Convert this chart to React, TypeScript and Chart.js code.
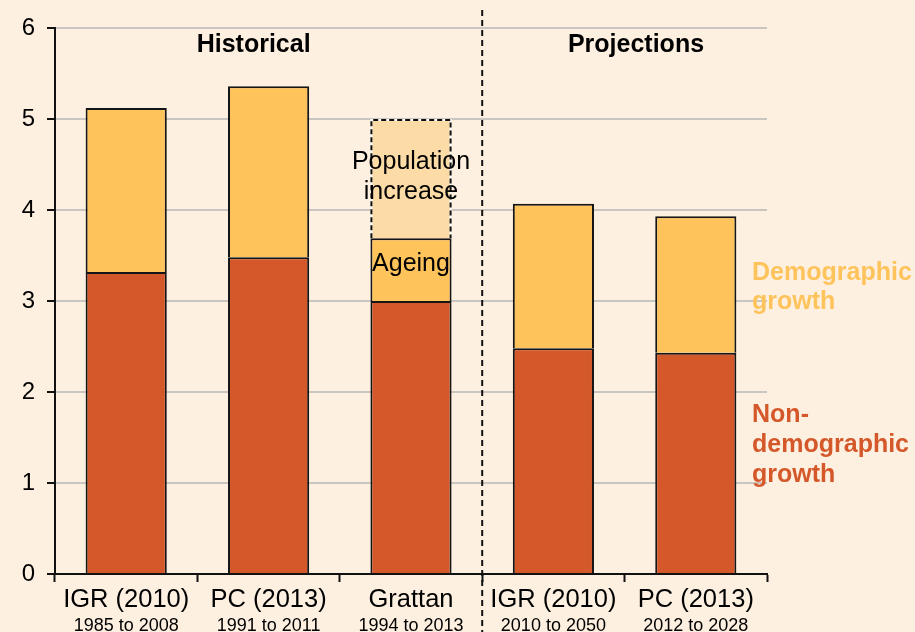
import React, { useEffect, useRef } from "react";
import { Chart, registerables } from "chart.js";

Chart.register(...registerables);

const categories = ["IGR (2010)", "PC (2013)", "Grattan", "IGR (2010)", "PC (2013)"];
const periods = ["1985 to 2008", "1991 to 2011", "1994 to 2013", "2010 to 2050", "2012 to 2028"];
const nonDemographic = [3.32, 3.48, 3.0, 2.48, 2.43];
const demographic = [1.8, 1.88, 0.69, 1.59, 1.5];
const populationIncrease = [0, 0, 1.31, 0, 0];
const yTicks = [0, 1, 2, 3, 4, 5, 6];

// annotation texts: [text, x (category units), y (value units)]
const sectionLabels: [string, number, number][] = [
  ["Historical", 0.895, 5.81],
  ["Projections", 3.58, 5.81],
];
const barNotes: [string, number, number][] = [
  ["Population", 2, 4.53],
  ["increase", 2, 4.2],
  ["Ageing", 2, 3.4],
];
const demoLegend: [string, number, number][] = [
  ["Demographic", 4.395, 3.31],
  ["growth", 4.395, 2.99],
];
const nonDemoLegend: [string, number, number][] = [
  ["Non-", 4.395, 1.75],
  ["demographic", 4.395, 1.42],
  ["growth", 4.395, 1.09],
];

const DARK = "#D4582A";
const YELLOW = "#FEC35B";
const LIGHT = "#FDDBA6";
const BG = "#FDF0E0";
const FONT = "'Liberation Sans', Arial, sans-serif";

export default function App() {
  const ref = useRef<HTMLCanvasElement | null>(null);

  useEffect(() => {
    document.body.style.margin = "0";
    const canvas = ref.current;
    if (!canvas) return;

    const overlay = {
      id: "overlay",
      beforeDraw(chart: any) {
        const { ctx } = chart;
        ctx.save();
        ctx.fillStyle = BG;
        ctx.fillRect(0, 0, chart.width, chart.height);
        ctx.restore();
      },
      afterDatasetsDraw(chart: any) {
        const { ctx } = chart;
        const xs = chart.scales.x;
        const ys = chart.scales.y;
        ctx.save();
        // dashed border of population increase segment
        const meta = chart.getDatasetMeta(2);
        meta.data.forEach((el: any, i: number) => {
          if (!populationIncrease[i]) return;
          const p = el.getProps(["x", "y", "base", "width"], true);
          const l = p.x - p.width / 2 + 1;
          const r = p.x + p.width / 2 - 1;
          ctx.beginPath();
          ctx.moveTo(l, p.base);
          ctx.lineTo(l, p.y + 1);
          ctx.lineTo(r, p.y + 1);
          ctx.lineTo(r, p.base);
          ctx.lineWidth = 2;
          ctx.strokeStyle = "#ffffff";
          ctx.setLineDash([]);
          ctx.stroke();
          ctx.strokeStyle = "#111111";
          ctx.setLineDash([5, 3]);
          ctx.stroke();
        });
        ctx.setLineDash([]);
        // section divider
        const xd = (xs.getPixelForValue(2) + xs.getPixelForValue(3)) / 2;
        ctx.beginPath();
        ctx.moveTo(xd, 10);
        ctx.lineTo(xd, chart.height);
        ctx.lineWidth = 2;
        ctx.strokeStyle = "#111111";
        ctx.setLineDash([6, 4]);
        ctx.stroke();
        ctx.setLineDash([]);

        ctx.textBaseline = "middle";
        ctx.textAlign = "center";
        ctx.fillStyle = "#000";
        ctx.font = `bold 25px ${FONT}`;
        sectionLabels.forEach(([t, x, y]) => {
          ctx.fillText(t, xs.getPixelForValue(x), ys.getPixelForValue(y));
        });
        ctx.font = `25px ${FONT}`;
        barNotes.forEach(([t, x, y]) => {
          ctx.fillText(t, xs.getPixelForValue(x), ys.getPixelForValue(y));
        });
        ctx.textAlign = "left";
        ctx.font = `bold 25px ${FONT}`;
        ctx.fillStyle = YELLOW;
        demoLegend.forEach(([t, x, y]) => {
          ctx.fillText(t, xs.getPixelForValue(x), ys.getPixelForValue(y));
        });
        ctx.fillStyle = DARK;
        nonDemoLegend.forEach(([t, x, y]) => {
          ctx.fillText(t, xs.getPixelForValue(x), ys.getPixelForValue(y));
        });

        // x labels
        ctx.textAlign = "center";
        ctx.fillStyle = "#000";
        const base = ys.getPixelForValue(0);
        categories.forEach((c, i) => {
          const px = xs.getPixelForValue(i);
          ctx.font = `25.5px ${FONT}`;
          ctx.fillText(c, px, base + 26);
          ctx.font = `18px ${FONT}`;
          ctx.fillText(periods[i], px, base + 52);
        });
        ctx.restore();
      },
    };

    const chart = new Chart(canvas, {
      type: "bar",
      data: {
        labels: categories,
        datasets: [
          {
            label: "Non-demographic growth",
            data: nonDemographic,
            backgroundColor: DARK,
            borderColor: "#151515",
            borderWidth: 2,
          },
          {
            label: "Demographic growth",
            data: demographic,
            backgroundColor: YELLOW,
            borderColor: "#151515",
            borderWidth: 2,
          },
          {
            label: "Population increase",
            data: populationIncrease,
            backgroundColor: LIGHT,
            borderWidth: 0,
          },
        ],
      },
      options: {
        animation: false,
        responsive: false,
        maintainAspectRatio: false,
        layout: { padding: { top: 28, left: 0, right: 148, bottom: 0 } },
        datasets: { bar: { categoryPercentage: 1, barPercentage: 0.57 } },
        plugins: { legend: { display: false }, tooltip: { enabled: false } },
        scales: {
          x: {
            stacked: true,
            ticks: { display: false },
            grid: {
              drawOnChartArea: false,
              drawTicks: true,
              tickLength: 8,
              tickColor: "#111",
              tickWidth: 2,
              offset: true,
            },
            border: { color: "#111", width: 2 },
            afterFit(s: any) {
              s.height = 58;
            },
          },
          y: {
            stacked: true,
            min: 0,
            max: 6,
            afterBuildTicks(s: any) {
              s.ticks = yTicks.map((v) => ({ value: v }));
            },
            ticks: {
              color: "#000",
              font: { family: FONT, size: 24 },
              padding: 12,
            },
            grid: {
              color: "#C9C5C0",
              lineWidth: 2,
              tickColor: "#111",
              tickLength: 8,
              tickWidth: 2,
            },
            border: { color: "#111", width: 2 },
            afterFit(s: any) {
              s.width = 55;
            },
          },
        },
      },
      plugins: [overlay],
    });
    return () => chart.destroy();
  }, []);

  return (
    <div style={{ width: 915, height: 632, background: BG }}>
      <canvas ref={ref} width={915} height={632} style={{ display: "block" }} />
    </div>
  );
}
